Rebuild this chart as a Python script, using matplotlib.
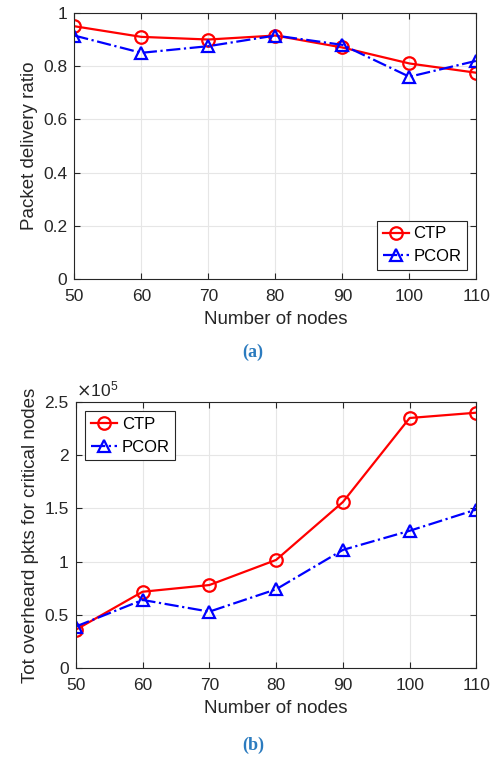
import matplotlib.pyplot as plt

nodes = [50, 60, 70, 80, 90, 100, 110]
pdr_ctp = [0.95, 0.91, 0.90, 0.915, 0.87, 0.81, 0.775]
pdr_pcor = [0.915, 0.85, 0.875, 0.915, 0.88, 0.76, 0.82]
ovh_ctp = [0.36, 0.717, 0.78, 1.016, 1.56, 2.35, 2.40]
ovh_pcor = [0.39, 0.64, 0.53, 0.74, 1.11, 1.29, 1.49]

plt.rcParams['font.family'] = ['Liberation Sans', 'DejaVu Sans']
cap_color = '#2b7bbf'

fig = plt.figure(figsize=(5.02, 7.60), dpi=100)
ax1 = fig.add_axes([0.148, 0.633, 0.801, 0.35])
ax2 = fig.add_axes([0.151, 0.121, 0.798, 0.35])


def style(ax):
    ax.set_xlim(50, 110)
    ax.set_xticks(nodes)
    ax.grid(True, color='#e6e6e6', linewidth=0.8)
    ax.set_axisbelow(True)
    ax.tick_params(direction='in', top=True, right=True, labelsize=12.5,
                   colors='#262626', length=4)
    ax.tick_params(axis='x', pad=7)
    ax.tick_params(axis='y', pad=5)
    for s in ax.spines.values():
        s.set_color('#262626')
        s.set_linewidth(0.8)
    ax.set_xlabel('Number of nodes', fontsize=13.5, color='#262626', labelpad=5)


def legend(ax, loc):
    leg = ax.legend(loc=loc, fontsize=12, fancybox=False, edgecolor='#262626',
                    handlelength=1.6, borderaxespad=0.55, handletextpad=0.25,
                    labelspacing=0.45, borderpad=0.35, framealpha=1)
    leg.get_frame().set_linewidth(0.8)


ax1.plot(nodes, pdr_ctp, '-o', color='red', lw=1.6, ms=9, mfc='none', mew=1.6, label='CTP')
ax1.plot(nodes, pdr_pcor, '-.^', color='blue', lw=1.6, ms=9, mfc='none', mew=1.6, label='PCOR')
style(ax1)
ax1.set_ylim(0, 1)
ax1.set_yticks([0, 0.2, 0.4, 0.6, 0.8, 1])
ax1.set_yticklabels(['0', '0.2', '0.4', '0.6', '0.8', '1'])
ax1.set_ylabel('Packet delivery ratio', fontsize=13.5, color='#262626')
legend(ax1, 'lower right')

ax2.plot(nodes, ovh_ctp, '-o', color='red', lw=1.6, ms=9, mfc='none', mew=1.6, label='CTP')
ax2.plot(nodes, ovh_pcor, '-.^', color='blue', lw=1.6, ms=9, mfc='none', mew=1.6, label='PCOR')
style(ax2)
ax2.set_ylim(0, 2.5)
ax2.set_yticks([0, 0.5, 1, 1.5, 2, 2.5])
ax2.set_yticklabels(['0', '0.5', '1', '1.5', '2', '2.5'])
ax2.set_ylabel('Tot overheard pkts for critical nodes', fontsize=13.5, color='#262626')
ax2.text(0.0, 1.01, r'$\times\mathregular{10^5}$', transform=ax2.transAxes,
         fontsize=12.5, color='#262626', ha='left', va='bottom')
legend(ax2, 'upper left')

fig.text(0.504, 1 - 352 / 760, '(a)', family='Liberation Serif', fontweight='bold',
         fontsize=13, color=cap_color, ha='center', va='center')
fig.text(0.504, 1 - 745 / 760, '(b)', family='Liberation Serif', fontweight='bold',
         fontsize=13, color=cap_color, ha='center', va='center')

fig.savefig('out.png', dpi=100)
